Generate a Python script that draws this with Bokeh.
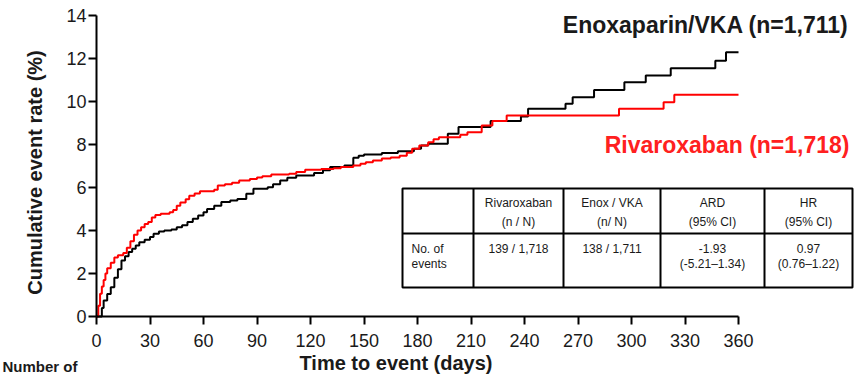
import math
from bokeh.plotting import figure
from bokeh.models import Range1d, Label
from bokeh.core.properties import value
from bokeh.embed import file_html
from bokeh.resources import INLINE

# ---------------- data ----------------
riva_days = [0, 1, 2, 3, 4, 5, 6, 8, 10, 12, 15, 17, 19, 21, 23, 25, 27, 29, 31, 33,
             36, 41, 43, 45, 47, 50, 52, 55, 58, 66, 68, 72, 76, 80, 86, 90, 93, 98, 108, 112,
             117, 126, 133, 137, 144, 148, 151, 155, 160, 165, 170, 174, 177, 181, 186, 189, 192, 204, 208, 216,
             222, 230, 293, 318, 324, 360]
riva_rate = [0, 0.5, 1.06, 1.4, 1.7, 2.0, 2.25, 2.5, 2.75, 2.85, 2.95, 3.2, 3.5, 3.8, 4.0, 4.15, 4.3, 4.4, 4.6, 4.72,
             4.78, 4.85, 4.95, 5.15, 5.3, 5.45, 5.62, 5.72, 5.83, 5.9, 6.09, 6.15, 6.22, 6.33, 6.4, 6.47, 6.52, 6.6, 6.64, 6.72,
             6.82, 6.86, 6.9, 6.95, 7.02, 7.1, 7.18, 7.26, 7.35, 7.4, 7.48, 7.62, 7.8, 7.95, 8.1, 8.25, 8.34, 8.45, 8.57, 8.88,
             9.09, 9.35, 9.66, 9.97, 10.31, 10.31]

enox_days = [0, 2, 3, 4, 6, 8, 10, 12, 14, 16, 18, 20, 22, 24, 27, 30, 32, 35, 38, 42,
             45, 48, 51, 54, 57, 60, 62, 66, 70, 75, 79, 84, 88, 96, 99, 103, 107, 112, 122, 127,
             131, 139, 144, 147, 150, 160, 169, 178, 182, 186, 197, 203, 221, 238, 242, 263, 267, 279, 296, 308,
             322, 347, 353, 360]
enox_rate = [0, 0, 0.4, 0.74, 1.05, 1.36, 1.8, 2.2, 2.6, 2.8, 3.0, 3.15, 3.3, 3.45, 3.57, 3.7, 3.85, 3.95, 4.0, 4.05,
             4.15, 4.25, 4.39, 4.55, 4.7, 4.85, 5.0, 5.15, 5.32, 5.4, 5.47, 5.71, 5.94, 6.01, 6.15, 6.33, 6.45, 6.56, 6.67, 6.8,
             6.95, 7.02, 7.38, 7.48, 7.53, 7.6, 7.69, 7.8, 7.95, 8.03, 8.5, 8.81, 9.09, 9.3, 9.66, 9.89, 10.2, 10.54, 10.9, 11.21,
             11.55, 11.9, 12.29, 12.29]

x_ticks = [0, 30, 60, 90, 120, 150, 180, 210, 240, 270, 300, 330, 360]
y_ticks = [0, 2, 4, 6, 8, 10, 12, 14]

enox_label = "Enoxaparin/VKA (n=1,711)"
riva_label = "Rivaroxaban (n=1,718)"
x_title = "Time to event (days)"
y_title = "Cumulative event rate (%)"
cut_text = "Number of"

table_head_1 = ["Rivaroxaban", "Enox / VKA", "ARD", "HR"]
table_head_2 = ["(n / N)", "(n/ N)", "(95% CI)", "(95% CI)"]
table_row_1 = ["139 / 1,718", "138 / 1,711", "-1.93", "0.97"]
table_row_2 = ["", "", "(-5.21\u20131.34)", "(0.76\u20131.22)"]
row_label = ["No. of", "events"]

# ---------------- layout helpers (picture pixel -> data) ----------------
W, H = 857, 375
X0, PX_DAY = 96.0, 642.0 / 360.0
Y0, PX_UNIT = 316.0, 21.5


def dx(X):
    return (X - X0) / PX_DAY


def dy(Y):
    return (Y0 - Y) / PX_UNIT


FONT = "Liberation Sans"
TXT = "#1a1a1a"
RED = "#ff0000"

p = figure(width=W, height=H, output_backend="svg", toolbar_location=None,
           x_range=Range1d(dx(0), dx(W)), y_range=Range1d(dy(H), dy(0)),
           min_border_left=0, min_border_right=0, min_border_top=0, min_border_bottom=0)
p.background_fill_color = "white"
p.border_fill_color = "white"
p.outline_line_color = None
p.grid.visible = False

for ax in (p.xaxis[0], p.yaxis[0]):
    ax.fixed_location = 0
    ax.axis_line_width = 2
    ax.axis_line_color = "black"
    ax.major_tick_line_width = 2
    ax.major_tick_line_color = "black"
    ax.major_tick_out = 8
    ax.major_tick_in = 0
    ax.minor_tick_line_color = None
    ax.major_label_text_font = FONT
    ax.major_label_text_font_size = "18px"
    ax.major_label_text_color = TXT

p.xaxis.ticker = x_ticks
p.yaxis.ticker = y_ticks
p.xaxis.bounds = (0, 360)
p.yaxis.bounds = (0, 14)
p.xaxis.major_label_standoff = 9
p.yaxis.major_label_standoff = 2

# curves
p.step(enox_days, enox_rate, mode="after", line_color="black", line_width=2)
p.step(riva_days, riva_rate, mode="after", line_color=RED, line_width=2)

# table
col_edges = [402, 473, 563, 660, 764, 852]
t_top, t_mid, t_bot = 188, 233, 287
p.quad(left=[dx(col_edges[0])], right=[dx(col_edges[-1])], top=[dy(t_top)], bottom=[dy(t_bot)],
       fill_color=None, line_color="black", line_width=2)
p.segment(x0=[dx(col_edges[0])], x1=[dx(col_edges[-1])], y0=[dy(t_mid)], y1=[dy(t_mid)],
          line_color="black", line_width=2)
p.segment(x0=[dx(c) for c in col_edges[1:-1]], x1=[dx(c) for c in col_edges[1:-1]],
          y0=[dy(t_top)] * 4, y1=[dy(t_bot)] * 4, line_color="black", line_width=2)

centers = [dx((col_edges[i] + col_edges[i + 1]) / 2) for i in range(1, 5)]
tstyle = dict(text_font=value(FONT), text_font_size=value("12px"), text_color=TXT,
              text_baseline="middle")
p.text(x=centers, y=[dy(202)] * 4, text=table_head_1, text_align="center", **tstyle)
p.text(x=centers, y=[dy(221)] * 4, text=table_head_2, text_align="center", **tstyle)
p.text(x=centers, y=[dy(248)] * 4, text=table_row_1, text_align="center", **tstyle)
p.text(x=centers, y=[dy(263)] * 4, text=table_row_2, text_align="center", **tstyle)
p.text(x=[dx(411)] * 2, y=[dy(248), dy(263)], text=row_label, text_align="left", **tstyle)

# series labels
p.add_layout(Label(x=dx(848), y=dy(24), text=enox_label, text_align="right",
                   text_baseline="middle", text_font=FONT, text_font_size="23px",
                   text_font_style="bold", text_color=TXT))
p.add_layout(Label(x=dx(849), y=dy(144), text=riva_label, text_align="right",
                   text_baseline="middle", text_font=FONT, text_font_size="23px",
                   text_font_style="bold", text_color="#ff2020"))

# axis titles
p.add_layout(Label(x=dx(395.5), y=dy(362), text=x_title, text_align="center",
                   text_baseline="middle", text_font=FONT, text_font_size="20px",
                   text_font_style="bold", text_color=TXT))
p.add_layout(Label(x=dx(34), y=dy(172), text=y_title, angle=math.pi / 2, text_align="center",
                   text_baseline="middle", text_font=FONT, text_font_size="20px",
                   text_font_style="bold", text_color=TXT))
p.add_layout(Label(x=dx(2), y=dy(366), text=cut_text, text_align="left",
                   text_baseline="middle", text_font=FONT, text_font_size="15px",
                   text_font_style="bold", text_color=TXT))

open("out.html", "w").write(file_html(p, INLINE))
